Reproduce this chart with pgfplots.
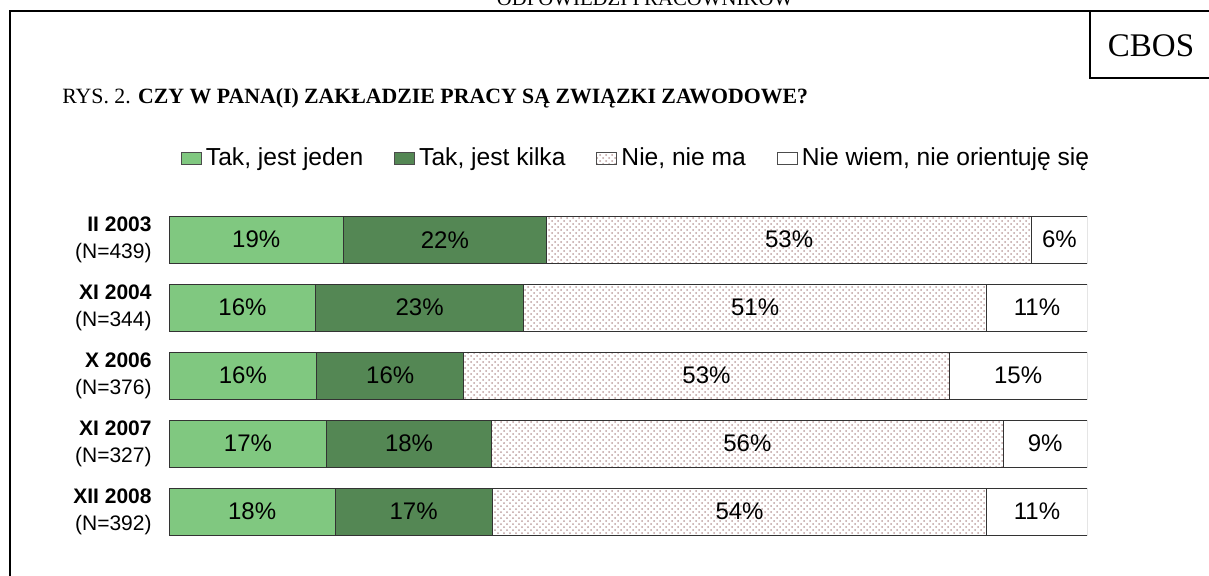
\documentclass[border=0pt]{standalone}
\usepackage{fontspec}
\setmainfont{Liberation Serif}
\newfontfamily\arial{Liberation Sans}
\usepackage{pgfplots}
\usepackage{pgfplotstable}
\pgfplotsset{compat=1.18}
\usetikzlibrary{patterns}
\definecolor{lgreen}{RGB}{128,200,128}
\definecolor{dgreen}{RGB}{84,135,84}
\definecolor{dotc}{RGB}{190,160,160}

\pgfplotstableread{
row a b c d
4 19.0 22.1 52.9 6.0
3 16.0 22.6 50.5 10.9
2 16.1 16.0 52.9 15.0
1 17.2 17.9 55.8 9.1
0 18.1 17.1 53.9 10.9
}\datatable

\begin{document}
\begin{tikzpicture}
\useasboundingbox (0,0) rectangle (604.5pt,287.5pt);
\begin{scope}
\clip (0,0) rectangle (604.5pt,287.5pt);
\draw[line width=1pt] (5pt,-5pt) -- (5pt,282pt) -- (610pt,282pt);
\draw[line width=1pt] (545pt,282pt) -- (545pt,248.5pt) -- (610pt,248.5pt);
\node[font=\fontsize{16.5}{18}\selectfont, anchor=base] at (575.5pt,259.5pt) {CBOS};
\node[font=\fontsize{10.4}{12}\selectfont, anchor=base] at (322.5pt,285pt) {ODPOWIEDZI PRACOWNIKÓW};
\end{scope}
\node[font=\fontsize{10.9}{12}\selectfont, anchor=base west, inner sep=0pt] at (31pt,236pt) {RYS. 2. \textbf{CZY W PANA(I) ZAKŁADZIE PRACY SĄ ZWIĄZKI ZAWODOWE?}};

\begin{axis}[
  at={(84.5pt,14.65pt)}, anchor=south west,
  scale only axis,
  width=459pt, height=170pt,
  xmin=0, xmax=100, ymin=-0.5, ymax=4.5,
  xbar stacked,
  bar width=0.69,
  axis line style={draw=none},
  tick style={draw=none},
  xtick=\empty,
  ytick={0,1,2,3,4},
  yticklabels={{\textbf{XII 2008}\\(N=392)},{\textbf{XI 2007}\\(N=327)},{\textbf{X 2006}\\(N=376)},{\textbf{XI 2004}\\(N=344)},{\textbf{II 2003}\\(N=439)}},
  yticklabel style={align=right, inner sep=0pt, xshift=-8.5pt, font=\arial\fontsize{10.5}{13.2}\selectfont},
  font=\arial,
  /pgf/number format/assume math mode=true,
  visualization depends on=rawx \as \rawx,
  nodes near coords={\pgfmathprintnumber[fixed,precision=0]{\rawx}\%},
  every node near coord/.append style={anchor=center, font=\arial\fontsize{12}{14}\selectfont},
  legend style={at={(axis description cs:0.5,1.0)}, anchor=center, xshift=4.5pt, yshift=23.85pt, draw=none, font=\arial\fontsize{12.3}{14}\selectfont, legend columns=4,
    /tikz/every even column/.append style={column sep=13.5pt}},
  legend image code/.code={\draw[#1,draw=black!70] (0pt,-3pt) rectangle (10pt,3pt);},
]
\addplot[fill=lgreen, draw=black!80, line width=0.5pt] table[x=a,y=row]{\datatable};
\addplot[fill=dgreen, draw=black!80, line width=0.5pt] table[x=b,y=row]{\datatable};
\addplot[pattern=crosshatch dots, pattern color=dotc, draw=black!80, line width=0.5pt] table[x=c,y=row]{\datatable};
\addplot[fill=white, draw=black!80, line width=0.5pt] table[x=d,y=row]{\datatable};
\legend{{Tak, jest jeden}, {Tak, jest kilka}, {Nie, nie ma}, {Nie wiem, nie orientuję się}}
\end{axis}
\end{tikzpicture}
\end{document}
